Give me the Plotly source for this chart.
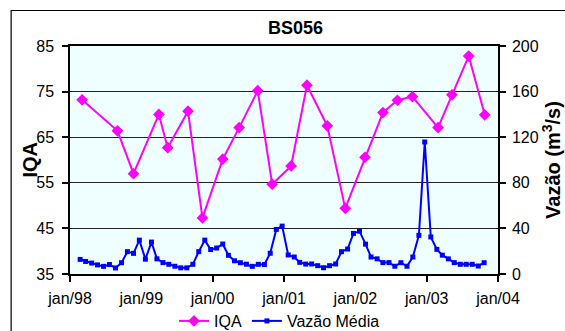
import plotly.graph_objects as go

# IQA samples
iqa_dates = ["1998-03-04", "1998-09-01", "1998-11-22", "1999-04-01", "1999-05-16",
             "1999-08-28", "1999-11-10", "2000-02-22", "2000-05-16", "2000-08-19",
             "2000-11-01", "2001-02-06", "2001-04-28", "2001-08-10", "2001-11-10",
             "2002-02-19", "2002-05-22", "2002-08-04", "2002-10-20", "2003-02-28",
             "2003-05-10", "2003-08-04", "2003-10-25"]
iqa_values = [73.2, 66.4, 57.0, 70.0, 62.7, 70.7, 47.3, 60.2, 67.1, 75.2,
              54.7, 58.7, 76.4, 67.5, 49.4, 60.6, 70.4, 73.1, 73.9, 67.1,
              74.3, 82.8, 69.9]

# Monthly mean flow
vazao_dates = [
    "1998-02-22", "1998-03-22", "1998-04-22", "1998-05-22", "1998-06-22", "1998-07-22",
    "1998-08-22", "1998-09-22", "1998-10-22", "1998-11-22", "1998-12-22",
    "1999-01-22", "1999-02-22", "1999-03-22", "1999-04-22", "1999-05-22", "1999-06-22",
    "1999-07-22", "1999-08-22", "1999-09-22", "1999-10-22", "1999-11-22", "1999-12-22",
    "2000-01-22", "2000-02-22", "2000-03-22", "2000-04-22", "2000-05-22", "2000-06-22",
    "2000-07-22", "2000-08-22", "2000-09-22", "2000-10-22", "2000-11-22", "2000-12-22",
    "2001-01-22", "2001-02-22", "2001-03-22", "2001-04-22", "2001-05-22", "2001-06-22",
    "2001-07-22", "2001-08-22", "2001-09-22", "2001-10-22", "2001-11-22", "2001-12-22",
    "2002-01-22", "2002-02-22", "2002-03-22", "2002-04-22", "2002-05-22", "2002-06-22",
    "2002-07-22", "2002-08-22", "2002-09-22", "2002-10-22", "2002-11-22", "2002-12-22",
    "2003-01-22", "2003-02-22", "2003-03-22", "2003-04-22", "2003-05-22", "2003-06-22",
    "2003-07-22", "2003-08-22", "2003-09-22", "2003-10-22"]
vazao_values = [12.8, 11.0, 9.6, 8.0, 6.7, 8.3, 5.3, 9.9, 19.6, 18.1,
                29.7, 13.0, 28.0, 13.3, 10.0, 8.5, 6.8, 5.4, 5.4, 8.5,
                19.6, 29.7, 21.5, 22.8, 26.3, 16.4, 11.6, 9.9, 8.6, 6.7,
                8.5, 8.3, 18.2, 39.1, 42.0, 16.7, 14.9, 10.2, 8.7, 8.8,
                7.3, 5.5, 7.3, 8.8, 19.6, 21.9, 35.6, 37.6, 26.2, 14.9,
                13.3, 10.0, 10.0, 6.8, 9.9, 6.8, 14.9, 33.9, 115.8, 32.5,
                21.6, 16.5, 13.3, 10.0, 8.5, 8.5, 8.5, 7.0, 9.9]

x_tickvals = ["1998-01-01", "1999-01-01", "2000-01-01", "2001-01-01",
              "2002-01-01", "2003-01-01", "2004-01-01"]
x_ticktext = ["jan/98", "jan/99", "jan/00", "jan/01", "jan/02", "jan/03", "jan/04"]

FONT = "Liberation Sans, Arial, sans-serif"

fig = go.Figure()
fig.add_trace(go.Scatter(
    x=iqa_dates, y=iqa_values, name="IQA", mode="lines+markers",
    line=dict(color="#FF00FF", width=2),
    marker=dict(symbol="diamond", size=9, color="#FF00FF"),
    yaxis="y"))
fig.add_trace(go.Scatter(
    x=vazao_dates, y=vazao_values, name="Vazão Média", mode="lines+markers",
    line=dict(color="#0000FF", width=2),
    marker=dict(symbol="square", size=5, color="#0000FF"),
    yaxis="y2"))

W, H = 565, 331
L, R, T, B = 69.5, 498.5, 46, 274
PW, PH = R - L, B - T

fig.update_layout(
    width=W, height=H,
    margin=dict(l=L, r=W - R, t=T, b=H - B, pad=0, autoexpand=False),
    paper_bgcolor="white",
    plot_bgcolor="#EFFFFF",
    font=dict(family=FONT, size=16, color="black"),
    title=dict(text="<b>BS056</b>", x=295.5 / W, xanchor="center",
               y=1 - 28 / H, yanchor="middle", automargin=False,
               font=dict(size=18, family=FONT, color="black")),
    showlegend=True,
    legend=dict(orientation="h", x=(279.5 - L) / PW, xanchor="center",
                y=-(304 - B) / PH, yanchor="top",
                font=dict(size=16, family=FONT), bgcolor="rgba(0,0,0,0)",
                borderwidth=0, tracegroupgap=0),
    xaxis=dict(type="date", range=["1998-01-01", "2004-01-01"],
               tickvals=x_tickvals, ticktext=x_ticktext, automargin=False,
               ticks="outside", ticklen=6, tickwidth=1.5, tickcolor="black",
               ticklabelstandoff=3,
               showline=True, linecolor="black", linewidth=1.5, mirror=True,
               showgrid=False, zeroline=False,
               tickfont=dict(size=16)),
    yaxis=dict(range=[35, 85], tick0=35, dtick=10, automargin=False,
               ticks="outside", ticklen=6, tickwidth=1.5, tickcolor="black",
               ticklabelstandoff=5,
               showline=True, linecolor="black", linewidth=1.5, mirror=True,
               showgrid=True, gridcolor="#222222", gridwidth=1, zeroline=False,
               tickfont=dict(size=16)),
    yaxis2=dict(range=[0, 200], tick0=0, dtick=40, overlaying="y", side="right",
                automargin=False,
                ticks="outside", ticklen=6, tickwidth=1.5, tickcolor="black",
                ticklabelstandoff=3,
                showline=True, linecolor="black", linewidth=1.5,
                showgrid=False, zeroline=False,
                tickfont=dict(size=16),
                title=dict(text="<b>Vazão (m<sup>3</sup>/s)</b>", font=dict(size=20), standoff=7)),
)

# left axis title
fig.add_annotation(text="<b>IQA</b>", xref="paper", yref="paper",
                   x=(29 - L) / PW, y=0.5, xanchor="center", yanchor="middle",
                   textangle=-90, showarrow=False, font=dict(size=20, family=FONT))

# outer chart border
fig.add_shape(type="rect", xref="paper", yref="paper",
              x0=(10.5 - L) / PW, x1=(580 - L) / PW,
              y0=-(350 - B) / PH, y1=1 + (T - 10.5) / PH,
              line=dict(color="black", width=1.2), fillcolor="rgba(0,0,0,0)", layer="below")

fig.write_html("out.html", config={"displayModeBar": False},
               post_script="document.body.style.margin='0';document.body.style.overflow='hidden';")
